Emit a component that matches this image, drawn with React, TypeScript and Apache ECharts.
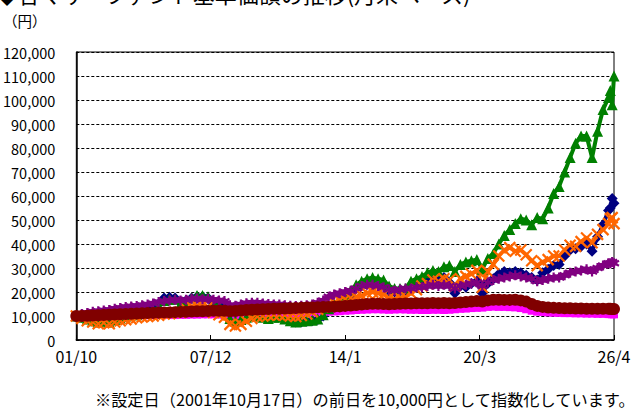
import React, { useEffect, useRef } from 'react';
import * as echarts from 'echarts';

// month index from 2001/10 (0) to 2026/4 (294)
const months: number[] = Array.from({ length: 98 }, (_, i) => i * 3).concat([292, 293, 294]);

const xTickLabels = ['01/10', '07/12', '14/1', '20/3', '26/4'];

const navy = [
  10000, 9500, 9000, 8200, 7800, 8000, 7800, 8800, 9500, 10500,
  11000, 11000, 11500, 12500, 13000, 15000, 17500, 17800, 17500, 15500,
  16500, 17500, 18000, 18000, 17500, 15000, 14500, 13000, 9500, 8500,
  9000, 10000, 10500, 10500, 10000, 9500, 10000, 10000, 9000, 8200,
  7500, 7500, 7800, 8000, 8500, 10000, 12500, 14500, 15500, 17500,
  19000, 21500, 23000, 24000, 24500, 24000, 23000, 20500, 20000, 20500,
  20500, 22000, 23000, 24500, 25500, 26500, 25500, 26000, 24000, 19500,
  22500, 22000, 23500, 24500, 19500, 23500, 25500, 27500, 28500, 28000,
  28500, 28000, 27000, 26000, 25000, 28000, 29500, 31000, 31500, 35000,
  37500, 38000, 39000, 40000, 37000, 43000, 48000, 54000,
  55000, 59000, 57000,
];

const magenta = [
  10000, 9900, 9900, 9900, 10000, 10000, 10000, 10100, 10100, 10200,
  10200, 10200, 10300, 10300, 10300, 10400, 10400, 10400, 10400, 10500,
  10500, 10600, 10600, 10700, 10700, 10700, 10600, 10500, 10300, 10300,
  10500, 10600, 10700, 10800, 10900, 11000, 11000, 11000, 11100, 11200,
  11300, 11300, 11400, 11500, 11600, 11700, 11800, 11900, 12000, 12200,
  12300, 12500, 12600, 12700, 12800, 12800, 12700, 12600, 12700, 12800,
  12700, 12600, 12600, 12500, 12500, 12600, 12600, 12500, 12600, 12800,
  13000, 13100, 13300, 13400, 13500, 13800, 13900, 13800, 13800, 13700,
  13600, 13300, 12800, 12200, 11800, 11700, 11500, 11400, 11300, 11200,
  11200, 11100, 11100, 11000, 11000, 10900, 10900, 10800,
  10800, 10700, 10700,
];

const green = [
  10000, 9500, 8800, 8000, 7500, 7800, 7500, 8500, 9200, 10000,
  10500, 10500, 11000, 12000, 12500, 14000, 16500, 17000, 17000, 15000,
  16000, 17500, 18500, 18500, 18000, 15500, 14500, 13000, 9000, 8000,
  8500, 9500, 10000, 10000, 9500, 9000, 9500, 9500, 8800, 8000,
  7500, 7800, 8000, 8200, 8800, 10500, 13000, 15000, 16500, 18500,
  20500, 23000, 24500, 25500, 26000, 25500, 25000, 22500, 21500, 21500,
  21500, 24500, 25500, 26500, 28000, 29000, 28500, 30500, 31000, 28500,
  31500, 32500, 33000, 33500, 29500, 34000, 36000, 40000, 43500, 46000,
  48500, 50500, 50000, 48000, 51000, 50500, 55000, 61000, 64000, 70000,
  76000, 82000, 85000, 85000, 76000, 87000, 96000, 101000,
  104000, 98000, 110000,
];

const orange = [
  10000, 9000, 8000, 7500, 6800, 7200, 6800, 7500, 8000, 8500,
  8800, 9300, 9600, 9800, 10000, 10300, 10800, 11000, 11500, 11500,
  13000, 13800, 14300, 14300, 13800, 11500, 10500, 9500, 6500, 5800,
  6500, 7800, 9000, 9800, 10000, 10300, 10500, 10500, 10300, 10000,
  9800, 10200, 10800, 11800, 12800, 13800, 14800, 15500, 16500, 17000,
  17500, 18000, 18500, 19500, 20000, 19500, 19000, 17500, 17000, 17500,
  18000, 19500, 21000, 22500, 23500, 25000, 24500, 25500, 25000, 22500,
  25500, 26500, 27500, 29000, 22000, 28500, 31500, 35000, 37500, 38500,
  37000, 37500, 35500, 33000, 31000, 32500, 33500, 35000, 35000, 37500,
  39500, 39000, 41000, 42500, 40500, 44000, 46000, 48500,
  50500, 51000, 48500,
];

const purple = [
  10000, 10800, 11300, 11800, 12000, 12300, 12500, 13000, 13300, 13800,
  14000, 14200, 14500, 14800, 15200, 15800, 16300, 16500, 16800, 16500,
  16800, 17200, 17300, 17000, 17200, 16800, 16500, 16200, 14500, 14300,
  14800, 15300, 15500, 15500, 15200, 15000, 14800, 14800, 14500, 14300,
  14200, 14300, 14500, 14800, 15500, 16500, 18000, 19000, 19500, 20000,
  20500, 21500, 22500, 23000, 23000, 22500, 22000, 21000, 20500, 21000,
  21500, 21500, 22000, 22000, 22500, 23000, 22500, 23000, 22500, 21500,
  22500, 23000, 23500, 24000, 22500, 24000, 25000, 25500, 26000, 26500,
  27000, 26500, 26000, 25500, 24500, 25000, 25500, 26000, 26000, 27000,
  28000, 28500, 29000, 29500, 28500, 30000, 31000, 32000,
  32000, 32500, 32000,
];

const darkRed = [
  10000, 10000, 10100, 10200, 10300, 10400, 10500, 10600, 10700, 10800,
  10900, 11000, 11100, 11200, 11300, 11400, 11500, 11500, 11600, 11700,
  11800, 11900, 12000, 12000, 12100, 12200, 12200, 12200, 12000, 12100,
  12300, 12500, 12600, 12700, 12800, 12900, 13000, 13000, 13100, 13200,
  13300, 13400, 13500, 13500, 13600, 13700, 13800, 13900, 14000, 14200,
  14400, 14600, 14800, 15000, 15100, 15100, 15000, 14900, 15000, 15100,
  15200, 15200, 15300, 15300, 15300, 15400, 15300, 15400, 15300, 15400,
  15600, 15800, 16000, 16200, 16000, 16500, 16800, 16800, 16700, 16700,
  16800, 16500, 16000, 15000, 14200, 13800, 13500, 13400, 13300, 13200,
  13200, 13100, 13100, 13000, 13000, 13000, 13000, 13000,
  13000, 12900, 12900,
];

const FONT = '"Noto Sans CJK JP", "Noto Sans", sans-serif';

export default function App() {
  const ref = useRef<HTMLDivElement>(null);
  useEffect(() => {
    document.body.style.margin = '0';
    const chart = echarts.init(ref.current!, null, { renderer: 'svg' });

    const mk = (name: string, color: string, symbol: string, size: number, values: number[], lw: number, bw = 0) => ({
      name,
      type: 'line',
      data: months.map((m, i) => [m, values[i]]),
      symbol,
      symbolSize: size,
      showSymbol: true,
      lineStyle: { color, width: lw },
      itemStyle: { color, borderColor: color, borderWidth: bw },
      emphasis: { disabled: true },
      silent: true,
    });

    chart.setOption({
      animation: false,
      textStyle: { fontFamily: FONT },
      grid: { left: 76, right: 24, top: 52, bottom: 72, show: true, borderColor: '#000', borderWidth: 1 },
      xAxis: {
        type: 'value',
        min: 0,
        max: 294,
        interval: 73.5,
        axisLine: { show: true, lineStyle: { color: '#000', width: 1.5 } },
        axisTick: { show: true, inside: true, length: 5, lineStyle: { color: '#000' } },
        splitLine: { show: false },
        axisLabel: {
          color: '#000',
          fontSize: 16,
          fontFamily: FONT,
          margin: 8,
          formatter: (v: number) => xTickLabels[Math.round(v / 73.5)] ?? '',
        },
      },
      yAxis: {
        type: 'value',
        min: 0,
        max: 120000,
        interval: 10000,
        axisLine: { show: true, lineStyle: { color: '#000', width: 1.5 } },
        axisTick: { show: false },
        splitLine: { show: true, lineStyle: { color: '#000', type: [3, 2], width: 1 } },
        axisLabel: {
          color: '#000',
          fontSize: 14.5,
          fontFamily: FONT,
          margin: 21,
          formatter: (v: number) => v.toLocaleString('en-US'),
        },
      },
      graphic: [
        {
          type: 'text',
          left: -4,
          top: -18,
          style: { text: '◆各マザーファンド基準価額の推移(月末ベース)', fontSize: 22, fontFamily: FONT, fill: '#000' },
        },
        {
          type: 'text',
          left: 3,
          top: 13,
          style: { text: '（円）', fontSize: 14.5, fontFamily: FONT, fill: '#000' },
        },
        {
          type: 'text',
          left: 95,
          top: 391,
          style: {
            text: '※設定日（2001年10月17日）の前日を10,000円として指数化しています。',
            fontSize: 16.2,
            fontFamily: FONT,
            fill: '#000',
          },
        },
      ],
      series: [
        mk('navy', '#000080', 'diamond', 11, navy, 4),
        mk('magenta', '#FF00FF', 'rect', 8, magenta, 5),
        mk('green', '#008000', 'triangle', 11, green, 4),
        mk('orange', '#FF6600', 'path://M0,0L10,10M10,0L0,10', 11, orange, 4, 2.2),
        mk('purple', '#800080', 'path://M5,0L5,10M0.7,2.5L9.3,7.5M0.7,7.5L9.3,2.5', 10, purple, 6, 2.2),
        mk('darkred', '#800000', 'circle', 12, darkRed, 9),
      ],
    });
    return () => chart.dispose();
  }, []);
  return <div ref={ref} style={{ width: 638, height: 412 }} />;
}
